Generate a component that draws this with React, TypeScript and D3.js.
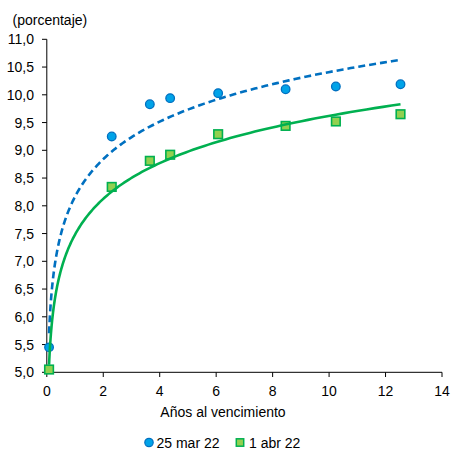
import React from "react";
import * as d3 from "d3";

const maturities = [0.08, 2.3, 3.65, 4.37, 6.07, 8.46, 10.24, 12.53];
const mar25 = [5.45, 9.25, 9.83, 9.94, 10.03, 10.1, 10.15, 10.19];
const abr1 = [5.05, 8.34, 8.81, 8.92, 9.29, 9.44, 9.52, 9.65];
const xTicks = [0, 2, 4, 6, 8, 10, 12, 14];
const yTicks = [5, 5.5, 6, 6.5, 7, 7.5, 8, 8.5, 9, 9.5, 10, 10.5, 11];
const seriesNames = ["25 mar 22", "1 abr 22"];

const W = 451, H = 450;
const x = d3.scaleLinear().domain([0, 14]).range([46.8, 442]);
const y = d3.scaleLinear().domain([5, 11]).range([372.3, 39.3]);
const fmt = (v: number) => v.toFixed(1).replace(".", ",");
const FONT = "'Liberation Sans', Arial, sans-serif";
const FS = 14;

function logFit(xs: number[], ys: number[]) {
  const lx = xs.map(Math.log);
  const mx = d3.mean(lx)!, my = d3.mean(ys)!;
  let sxy = 0, sxx = 0;
  lx.forEach((v, i) => { sxy += (v - mx) * (ys[i] - my); sxx += (v - mx) * (v - mx); });
  const b = sxy / sxx, a = my - b * mx;
  const x0 = d3.min(xs)!, x1 = d3.max(xs)!;
  const n = 200;
  return d3.range(n + 1).map(i => {
    const xv = Math.exp(Math.log(x0) + (Math.log(x1) - Math.log(x0)) * i / n);
    return [xv, a + b * Math.log(xv)] as [number, number];
  });
}

export default function App() {
  const line = d3.line<[number, number]>().x(d => x(d[0])).y(d => y(d[1]));
  const fitBlue = logFit(maturities, mar25);
  const fitGreen = logFit(maturities, abr1);
  return (
    <svg width={W} height={H} style={{ position: "absolute", left: 0, top: 0, background: "#fff" }} fontFamily={FONT}>
      <text x={12.5} y={24.5} fontSize={FS} fill="#000">(porcentaje)</text>
      {yTicks.map(t => (
        <g key={t}>
          <line x1={42} x2={46.8} y1={y(t)} y2={y(t)} stroke="#000" />
          <text x={34} y={y(t) + 5} fontSize={FS} textAnchor="end">{fmt(t)}</text>
        </g>
      ))}
      {xTicks.map(t => (
        <g key={t}>
          <line x1={x(t)} x2={x(t)} y1={372.3} y2={377} stroke="#000" />
          <text x={x(t)} y={395.5} fontSize={FS} textAnchor="middle">{t}</text>
        </g>
      ))}
      <line x1={46.8} x2={46.8} y1={39.3} y2={372.3} stroke="#000" />
      <line x1={46.8} x2={442} y1={372.3} y2={372.3} stroke="#000" />
      <text x={223} y={416.5} fontSize={FS} textAnchor="middle">Años al vencimiento</text>

      {maturities.map((m, i) => (
        <circle key={"b" + i} cx={x(m)} cy={y(mar25[i])} r={4.3} fill="#00a3e8" stroke="#0070c0" strokeWidth={1.3} />
      ))}
      {maturities.map((m, i) => (
        <rect key={"g" + i} x={x(m) - 4.3} y={y(abr1[i]) - 4.3} width={8.6} height={8.6} fill="#92d050" stroke="#00b050" strokeWidth={1.6} />
      ))}
      <path d={line(fitBlue)!} fill="none" stroke="#0070c0" strokeWidth={2.6} strokeDasharray="7,4" />
      <path d={line(fitGreen)!} fill="none" stroke="#00b050" strokeWidth={2.6} />

      <circle cx={149} cy={442.5} r={4.2} fill="#00a3e8" stroke="#0070c0" strokeWidth={1.2} />
      <text x={156.5} y={447.5} fontSize={FS}>{seriesNames[0]}</text>
      <rect x={236.3} y={438.8} width={7.4} height={7.4} fill="#92d050" stroke="#00b050" strokeWidth={1.5} />
      <text x={249} y={447.5} fontSize={FS}>{seriesNames[1]}</text>
    </svg>
  );
}
